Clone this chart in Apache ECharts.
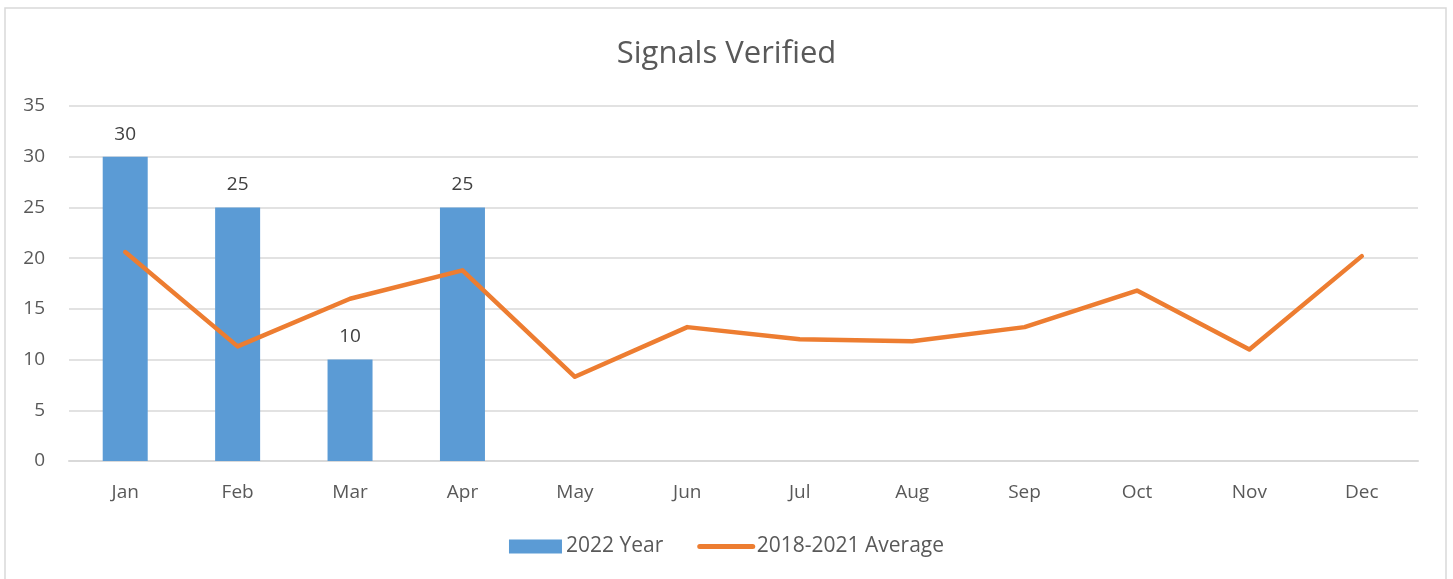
<!DOCTYPE html>
<html>
<head>
<meta charset="utf-8">
<style>
  html, body { margin: 0; padding: 0; background: #ffffff; }
  #chart { width: 1453px; height: 579px; }
</style>
<script src="https://cdn.jsdelivr.net/npm/echarts@6/dist/echarts.min.js"></script>
</head>
<body>
<div id="chart"></div>
<script>
// Monthly categories
const months = ['Jan', 'Feb', 'Mar', 'Apr', 'May', 'Jun', 'Jul', 'Aug', 'Sep', 'Oct', 'Nov', 'Dec'];
// Signals verified in 2022 (reported months only)
const year2022 = [30, 25, 10, 25, null, null, null, null, null, null, null, null];
// 2018-2021 monthly average
const average2018to2021 = [20.6, 11.3, 16.0, 18.8, 8.3, 13.2, 12.0, 11.8, 13.2, 16.8, 11.0, 20.2];

const FONT = '"Open Sans", "Liberation Sans", sans-serif';
const TEXT = '#595959';

const chart = echarts.init(document.getElementById('chart'), null, { renderer: 'canvas' });
chart.setOption({
  backgroundColor: '#ffffff',
  animation: false,
  title: {
    text: 'Signals Verified',
    left: 'center',
    top: 34,
    textStyle: { fontFamily: FONT, fontSize: 31, fontWeight: 'normal', color: TEXT }
  },
  graphic: [{
    type: 'rect',
    shape: { x: 5, y: 8, width: 1441, height: 600 },
    style: { fill: 'none', stroke: '#d9d9d9', lineWidth: 1.5 },
    silent: true
  }],
  grid: { left: 69, right: 35, top: 106, bottom: 118, containLabel: false },
  legend: {
    bottom: 17,
    left: 'center',
    itemGap: 34,
    itemWidth: 53,
    itemHeight: 14,
    textStyle: { fontFamily: FONT, fontSize: 21, color: TEXT, padding: [0, 0, 0, -1] },
    data: [
      { name: '2022 Year', icon: 'rect' },
      {
        name: '2018-2021 Average',
        itemStyle: { opacity: 0 },
        lineStyle: { width: 5, cap: 'round', color: '#ed7d31' }
      }
    ]
  },
  xAxis: {
    type: 'category',
    data: months,
    axisLine: { lineStyle: { color: '#d9d9d9', width: 2 } },
    axisTick: { show: false },
    axisLabel: { fontFamily: FONT, fontSize: 19, color: TEXT, margin: 22 }
  },
  yAxis: {
    type: 'value',
    min: 0,
    max: 35,
    interval: 5,
    axisLine: { show: false },
    axisTick: { show: false },
    splitLine: { lineStyle: { color: '#d9d9d9', width: 1.5 } },
    axisLabel: { fontFamily: FONT, fontSize: 19, color: TEXT, margin: 24 }
  },
  series: [
    {
      name: '2022 Year',
      type: 'bar',
      data: year2022,
      barWidth: 45,
      itemStyle: { color: '#5b9bd5' },
      label: {
        show: true,
        position: 'top',
        distance: 13,
        fontFamily: FONT,
        fontSize: 19,
        color: '#404040'
      }
    },
    {
      name: '2018-2021 Average',
      type: 'line',
      data: average2018to2021,
      symbol: 'none',
      lineStyle: { color: '#ed7d31', width: 4.5, cap: 'round', join: 'round' },
      itemStyle: { color: '#ed7d31' }
    }
  ]
});
</script>
</body>
</html>
